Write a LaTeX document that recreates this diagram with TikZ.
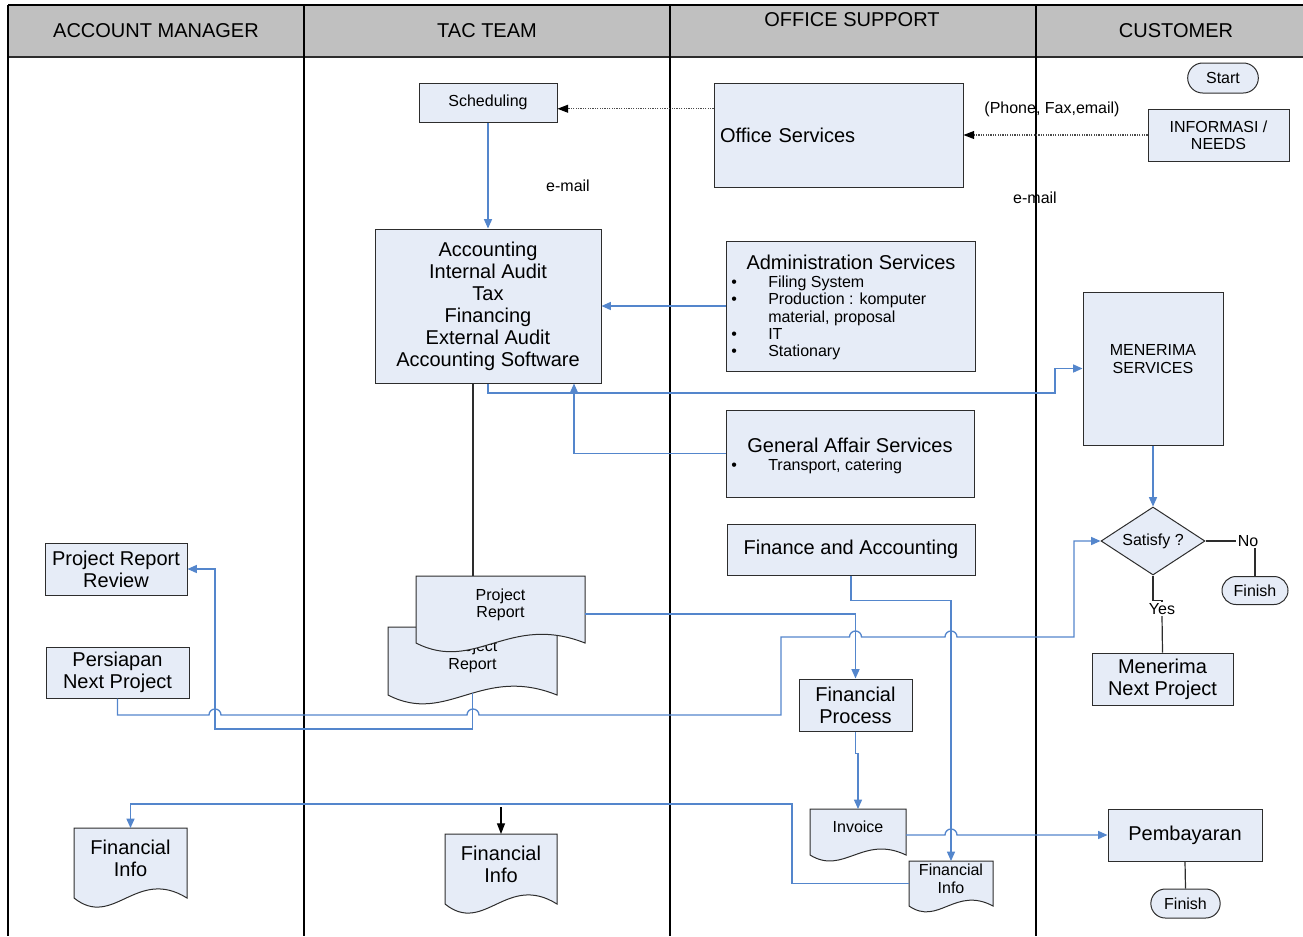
\documentclass[tikz,border=0pt]{standalone}
\usepackage{fontspec}
\setmainfont{Liberation Sans}
\usetikzlibrary{arrows.meta,shapes.geometric,shapes.misc,calc}
\definecolor{boxfill}{RGB}{230,236,247}
\definecolor{conn}{RGB}{84,134,204}
\definecolor{hdrfill}{RGB}{192,192,192}
\definecolor{edge}{RGB}{45,45,45}
\newcommand\rectnode[7]{\node[#1, minimum width={(#5-#3)*0.75pt}, minimum height={(#6-#4)*0.75pt}] (#2) at ({(#3+#5)/2},{(#4+#6)/2}) {#7};}
\newcommand\docnode[7]{%
  \path[docshape] (#3,#4) -- (#3,#6) .. controls ({#3+0.35*(#5-#3)},{#6+0.45*(#6-#4)}) and ({#3+0.55*(#5-#3)},{#6-0.45*(#6-#4)}) .. (#5,#6) -- (#5,#4) -- cycle;
  \node[docarea, minimum width={(#5-#3)*0.75pt}, minimum height={(#6-#4)*0.75pt}, label={[#1, yshift=3.6pt]center:{#7}}] (#2) at ({(#3+#5)/2},{(#4+#6)/2}) {};}
\tikzset{
 big/.style={font=\fontsize{15}{16.5}\selectfont, align=center},
 small/.style={font=\fontsize{12}{13}\selectfont, align=center},
 box/.style={draw=edge, fill=boxfill, line width=0.75pt, inner sep=0pt},
 term/.style={box, rounded rectangle},
 decision/.style={box, diamond, shape aspect=1.58},
 docshape/.style={draw=edge, fill=boxfill, line width=0.75pt},
 docarea/.style={inner sep=0pt, outer sep=0pt},
 flow/.style={draw=conn, line width=1pt, -{Triangle[length=7pt,width=6pt]}},
 link/.style={draw=edge, line width=0.9pt},
 dotflow/.style={draw=gray!60!black, line width=0.8pt, densely dotted, -{Triangle[length=8pt,width=6pt,color=black]}},
 blkflow/.style={draw=black, line width=0.9pt, -{Triangle[length=8pt,width=6pt]}},
 lane/.style={draw=black, line width=1pt},
 hdr/.style={font=\fontsize{15}{16.5}\selectfont},
 lbl/.style={font=\fontsize{12}{13}\selectfont, inner sep=1pt},
}
\begin{document}
\begin{tikzpicture}[x=0.75pt,y=-0.75pt]
\useasboundingbox (0,0) rectangle (1303,936);
% header and lanes
\fill[hdrfill] (8,5) rectangle (1303,57);
\draw[lane] (8,5) -- (1303,5);
\draw[draw=edge, line width=1.6pt] (8,57) -- (1303,57);
\foreach \x in {8,304,670,1036} \draw[lane] (\x,5) -- (\x,936);
\node[hdr] (hAM) at (156,31) {ACCOUNT MANAGER};
\node[hdr] (hTAC) at (487,31) {TAC TEAM};
\node[hdr] (hOS) at (852,20) {OFFICE SUPPORT};
\node[hdr] (hCU) at (1176,31) {CUSTOMER};
% nodes
\rectnode{box,small}{sched}{419}{83}{557}{122}{Scheduling}
\rectnode{box,big,text width=177.75pt,align=left}{office}{714}{83}{963}{187}{Office Services}
\node[term,small,minimum width=53pt,minimum height=22.5pt] (start) at (1223,78) {Start};
\rectnode{box,small}{info}{1148}{109}{1289}{161}{INFORMASI /\\NEEDS}
\node[lbl] (phone) at (1052,109) {(Phone, Fax,email)};
\node[lbl] (mail1) at (568,186) {e-mail};
\node[lbl] (mail2) at (1035,198) {e-mail};
\rectnode{box,big}{acc}{375}{229}{601}{383}{Accounting\\Internal Audit\\Tax\\Financing\\External Audit\\Accounting Software}
\rectnode{box}{adm}{726}{241}{975}{371}{}
\node[big] (admtitle) at (851,262) {Administration Services};
\node[small,anchor=north west,inner sep=0pt,align=left] (admlist) at (731,275) {\begin{tabular}{@{}p{27.75pt}@{}l@{}}\textbullet & Filing System\\ \textbullet & Production : komputer\\ & material, proposal\\ \textbullet & IT\\ \textbullet & Stationary\end{tabular}};
\rectnode{box}{men}{1083}{292}{1223}{445}{}
\node[small] (mentext) at (1153,359) {MENERIMA\\SERVICES};
\rectnode{box}{gas}{726}{410}{974}{497}{}
\node[big] (gastitle) at (850,445) {General Affair Services};
\node[small,anchor=north west,inner sep=0pt,align=left] (gaslist) at (731,458) {\begin{tabular}{@{}p{27.75pt}@{}l@{}}\textbullet & Transport, catering\end{tabular}};
\rectnode{box,big}{fin}{727}{524}{975}{575}{Finance and Accounting}
\node[decision,small,minimum width=78pt,minimum height=51pt] (sat) at (1153,541) {Satisfy ?};
\node[lbl] (no) at (1248,541) {No};
\node[term,small,minimum width=49.5pt,minimum height=21pt] (fin1) at (1255,590.5) {Finish};
\node[lbl] (yes) at (1162,609) {Yes};
\rectnode{box,big}{mnp}{1092}{653}{1233}{705}{Menerima\\Next Project}
\rectnode{box,big}{prr}{45}{543}{187}{595}{Project Report\\Review}
\rectnode{box,big}{pnp}{46}{647}{189}{698}{Persiapan\\Next Project}
\docnode{small}{prjb}{388}{627}{557}{695}{Project\\Report}
\docnode{small}{prjf}{416}{576}{585}{643}{Project\\Report}
\rectnode{box,big}{fp}{799}{679}{912}{731}{Financial\\Process}
\docnode{small}{inv}{810}{809}{906}{855}{Invoice}
\docnode{small}{fio}{909}{861}{993}{906}{Financial\\Info}
\rectnode{box,big}{pay}{1108}{809}{1262}{861}{Pembayaran}
\node[term,small,minimum width=52pt,minimum height=21.75pt] (fin2) at (1185.5,903.5) {Finish};
\docnode{big}{fiam}{74}{828}{187}{898}{Financial\\Info}
\docnode{big}{fitac}{445}{834}{557}{904}{Financial\\Info}
% connectors
\coordinate (o1) at ($(office.north west)!0.25!(office.south west)$);
\draw[dotflow] (o1) -- (sched.east |- o1);
\draw[dotflow] (info.west) -- (office.east |- info.west);
\draw[flow] (sched.south) -- (acc.north);
\draw[flow] (adm.west) -- (acc.east |- adm.west);
\draw[flow] (acc.south) |- (1055,393) |- (men.west);
\draw[flow] (gas.west) -| ($(acc.south)+(86,0)$);
\coordinate (a2) at ($(acc.south)+(-15,0)$);
\draw[link] (a2) -- (a2 |- prjf.north);
\draw[flow] ($(prjf.east)+(0,4.5)$) -| (fp.north);
\draw[flow] (fin.south) -- ++(0,25) -| (fio.north);
\draw[flow] (fp.south) -- ++(0,22) -| (inv.north);
\draw[flow] (inv.east |- pay.west) -- (945,835) arc[start angle=180,end angle=360,radius=6] -- (pay.west);
\draw[flow] (pnp.south) |- (209,715) arc[start angle=180,end angle=360,radius=6] -- (467,715) arc[start angle=180,end angle=360,radius=6] -- (781,715) |- (849.5,637) arc[start angle=180,end angle=360,radius=6] -- (945,637) arc[start angle=180,end angle=360,radius=6] -- (1074,637) |- (sat.west);
\draw[flow] ($(prjb.south)+(0,-2)$) |- (215,729) |- (prr.east);
\draw[flow] (fio.west) -| (792,804) -| (fiam.north);
\draw[blkflow] ($(fitac.north)+(0,-27)$) -- (fitac.north);
\draw[flow] (men.south) -- (sat.north);
\draw[link] (sat.east) -- (no.west);
\draw[link] (fin1.north |- no.south) -- (fin1.north);
\draw[link] (sat.south) -- ++(0,25) -| (yes.north);
\draw[link] (yes.south) -- (mnp.north);
\draw[link] (pay.south) -- (fin2.north);
\end{tikzpicture}
\end{document}
